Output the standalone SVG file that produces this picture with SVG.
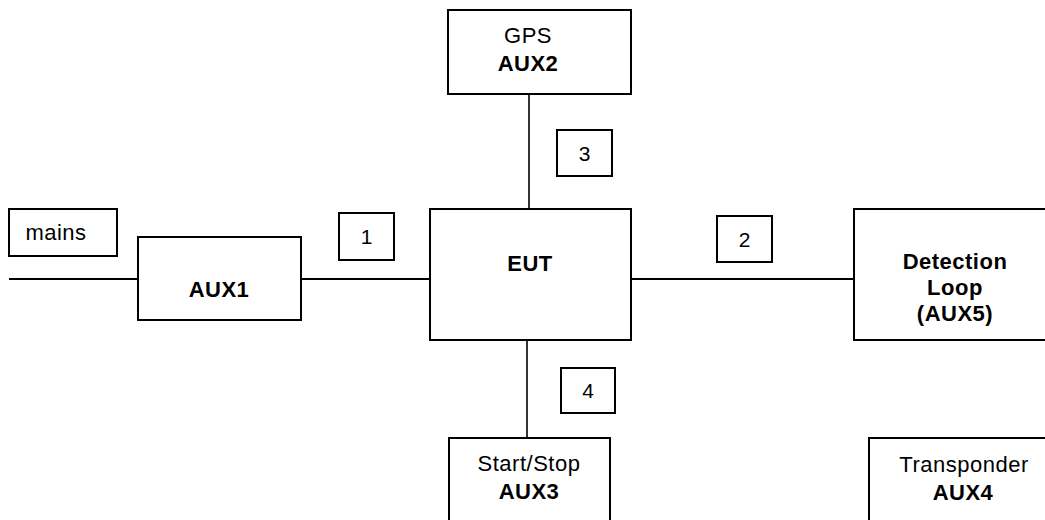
<svg xmlns="http://www.w3.org/2000/svg" width="1045" height="520" viewBox="0 0 1045 520">
  <style>
    .box { fill: #ffffff; stroke: #000000; stroke-width: 2; }
    .wire { stroke: #000000; stroke-width: 2; fill: none; }
    .vwire { stroke: #000000; stroke-width: 1.6; fill: none; }
    text { font-family: "Liberation Sans", Arial, sans-serif; font-size: 22px; letter-spacing: 0.5px; fill: #000000; text-anchor: middle; }
    .b { font-weight: bold; }
    .n { font-size: 21px; letter-spacing: 0; }
  </style>
  <rect x="0" y="0" width="1045" height="520" fill="#ffffff"/>

  <!-- cabling between units -->
  <g id="connectors">
    <line class="wire" x1="9" y1="279" x2="138" y2="279"/>
    <line class="wire" x1="301" y1="279" x2="430" y2="279"/>
    <line class="wire" x1="631" y1="279" x2="854" y2="279"/>
    <line class="vwire" x1="529" y1="94" x2="529" y2="209"/>
    <line class="vwire" x1="527" y1="340" x2="527" y2="438"/>
  </g>

  <!-- port labels -->
  <g id="port1">
    <rect class="box" x="339" y="213" width="55" height="47"/>
    <text class="n" x="366.5" y="244">1</text>
  </g>
  <g id="port2">
    <rect class="box" x="717" y="216" width="55" height="46"/>
    <text class="n" x="744.5" y="247">2</text>
  </g>
  <g id="port3">
    <rect class="box" x="557" y="130" width="55" height="46"/>
    <text class="n" x="584.5" y="161">3</text>
  </g>
  <g id="port4">
    <rect class="box" x="561" y="368" width="54" height="45"/>
    <text class="n" x="588" y="398">4</text>
  </g>

  <!-- units -->
  <g id="mains">
    <rect class="box" x="9" y="209" width="108" height="47"/>
    <text x="56" y="240">mains</text>
  </g>
  <g id="aux1">
    <rect class="box" x="138" y="237" width="163" height="83"/>
    <text class="b" x="219" y="297">AUX1</text>
  </g>
  <g id="eut">
    <rect class="box" x="430" y="209" width="201" height="131"/>
    <text class="b" x="530" y="271">EUT</text>
  </g>
  <g id="aux2">
    <rect class="box" x="448" y="10" width="183" height="84"/>
    <text x="528" y="43">GPS</text>
    <text class="b" x="528" y="71">AUX2</text>
  </g>
  <g id="aux3">
    <rect class="box" x="449" y="438" width="161" height="100"/>
    <text x="529" y="471">Start/Stop</text>
    <text class="b" x="529" y="499">AUX3</text>
  </g>
  <g id="aux5">
    <rect class="box" x="854" y="209" width="200" height="131"/>
    <text class="b" x="955" y="269">Detection</text>
    <text class="b" x="955" y="295">Loop</text>
    <text class="b" x="955" y="321">(AUX5)</text>
  </g>
  <g id="aux4">
    <rect class="box" x="869" y="438" width="190" height="100"/>
    <text x="964" y="472">Transponder</text>
    <text class="b" x="963" y="500">AUX4</text>
  </g>
</svg>
